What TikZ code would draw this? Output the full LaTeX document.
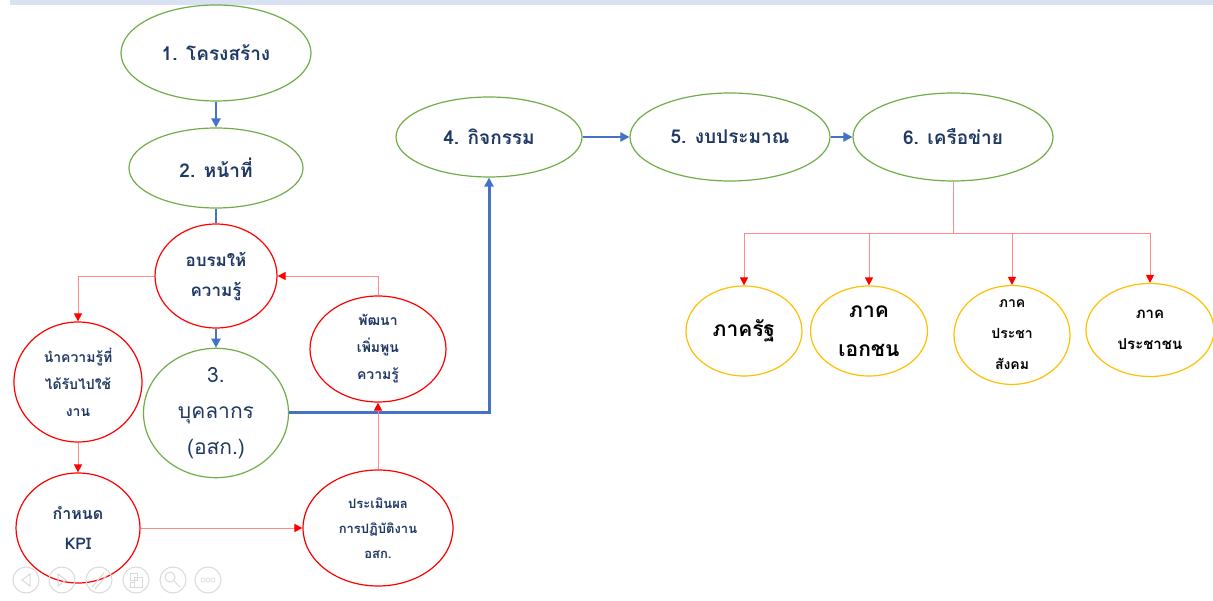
\documentclass[tikz,border=0pt]{standalone}
\usepackage{fontspec}
\newfontfamily\thaifont[Script=Thai]{Loma}
\usetikzlibrary{arrows.meta,positioning,shapes.geometric}
\definecolor{navytext}{HTML}{1F3864}
\definecolor{phasegreen}{HTML}{70AD47}
\definecolor{stagered}{HTML}{FF0000}
\definecolor{linkred}{HTML}{FF8A8A}
\definecolor{sectorgold}{HTML}{FFC000}
\definecolor{flowblue}{HTML}{4472C4}
\definecolor{bannerblue}{HTML}{D9E2F3}
\definecolor{icongray}{HTML}{DADADA}

\begin{document}
\begin{tikzpicture}[
  x=1pt, y=-1pt,
  >=Triangle,
  oval/.style 2 args={minimum width=#1pt, minimum height=#2pt},
  greenphase/.style={
    ellipse,
    draw=phasegreen,
    fill=white,
    line width=1.2pt,
    inner sep=0pt,
    align=center,
    text=navytext,
    font=\thaifont\bfseries\fontsize{19}{28}\selectfont
  },
  redstage/.style={
    ellipse,
    draw=stagered,
    fill=white,
    line width=1.2pt,
    inner sep=0pt,
    align=center,
    text=navytext,
    font=\thaifont\bfseries\fontsize{14}{27}\selectfont
  },
  goldsector/.style={
    ellipse,
    draw=sectorgold,
    fill=white,
    line width=1.2pt,
    inner sep=0pt,
    align=center,
    text=black,
    font=\thaifont\bfseries\fontsize{21}{39}\selectfont
  },
  bluearrow/.style={
    -{Triangle[length=9pt,width=9pt]},
    line width=2.4pt,
    draw=flowblue
  },
  blueline/.style={
    line width=2.4pt,
    draw=flowblue
  },
  redarrow/.style={
    -{Triangle[length=8pt,width=8pt]},
    line width=0.9pt,
    draw=linkred,
    color=linkred,
    arrows={-{Triangle[length=8pt,width=8pt,color=stagered]}}
  },
  treeline/.style={
    line width=1pt,
    draw=linkred
  },
  iconring/.style={
    draw=icongray,
    line width=1pt
  }
]
  \useasboundingbox (0,0) rectangle (1213,601);

  % Slide banner
  \fill[bannerblue] (10,0) rectangle (1213,5);

  % --- LEFT COLUMN: Phases 1, 2, 3 ---
  \node[greenphase, oval={190}{96}] (s1) at (216,53) {1. โครงสร้าง};
  \node[greenphase, oval={174}{80}] (s2) at (216,168) {2. หน้าที่};
  \node[redstage, oval={122}{104}, font=\thaifont\bfseries\fontsize{17}{30}\selectfont] (train) at (216,276) {อบรมให้\\ความรู้};
  \node[greenphase, oval={145}{120}, font=\thaifont\fontsize{21}{36}\selectfont] (s3) at (216,413) {3.\\บุคลากร\\(อสก.)};

  % --- TRAINING CYCLE ---
  \node[redstage, oval={128}{120}] (apply) at (78,382) {นำความรู้ที่\\ได้รับไปใช้\\งาน};
  \node[redstage, oval={136}{106}] (develop) at (378,349) {พัฒนา\\เพิ่มพูน\\ความรู้};
  \node[redstage, oval={124}{110}, font=\thaifont\bfseries\fontsize{16}{30}\selectfont] (kpi) at (78,528) {กำหนด\\KPI};
  \node[redstage, oval={150}{116}, font=\thaifont\bfseries\fontsize{13}{25}\selectfont] (assess) at (378,528) {ประเมินผล\\การปฏิบัติงาน\\อสก.};

  % --- TOP ROW: Phases 4, 5, 6 ---
  \node[greenphase, oval={186}{80}] (s4) at (489,137) {4. กิจกรรม};
  \node[greenphase, oval={200}{88}] (s5) at (730,137) {5. งบประมาณ};
  \node[greenphase, oval={200}{88}] (s6) at (953,137) {6. เครือข่าย};

  % --- NETWORK SECTORS ---
  \node[goldsector, oval={116}{90}] (state) at (744,331) {ภาครัฐ};
  \node[goldsector, oval={117}{90}] (private) at (869,331) {ภาค\\เอกชน};
  \node[goldsector, oval={116}{91}, font=\thaifont\bfseries\fontsize{14}{31}\selectfont] (civil) at (1012,335) {ภาค\\ประชา\\สังคม};
  \node[goldsector, oval={128}{93}, font=\thaifont\bfseries\fontsize{15}{31}\selectfont] (people) at (1150,330) {ภาค\\ประชาชน};

  % Main flow
  \draw[bluearrow] (s1) -- (s2);
  \draw[blueline] (s2) -- (train);
  \draw[bluearrow] (train) -- (s3);
  \draw[bluearrow, line width=3pt] (s3.east) -| (s4.south);
  \draw[bluearrow] (s4) -- (s5);
  \draw[bluearrow] (s5) -- (s6);

  % Training cycle
  \draw[redarrow] (train.west) -| (apply.north);
  \draw[redarrow] (apply) -- (kpi);
  \draw[redarrow] (kpi) -- (assess);
  \draw[redarrow] (assess) -- (develop);
  \draw[redarrow] (develop.north) |- (train.east);

  % Network tree
  \coordinate[below=52pt of s6.south] (split);
  \draw[treeline] (s6.south) -- (split);
  \foreach \sector in {state,private,civil,people}
    \draw[redarrow] (split) -| (\sector.north);

  % Slide show controls
  \foreach \cx in {26,62,99,136,173,208}
    \draw[iconring] (\cx,580) circle[radius=13pt];
  \draw[iconring] (30,574) -- (22,580) -- (30,586) -- cycle;
  \draw[iconring] (58,574) -- (66,580) -- (58,586) -- cycle;
  \draw[iconring] (92,587) -- (104,573) (95,589) -- (107,575);
  \draw[iconring] (130,573) rectangle (137,580) (134,577) rectangle (142,587) (130,582) rectangle (134,587);
  \draw[iconring] (170,577) circle[radius=5pt] (174,581) -- (180,587);
  \foreach \dx in {-5,0,5}
    \draw[iconring, line width=0.7pt] (208+\dx,580) circle[radius=2pt];
\end{tikzpicture}
\end{document}
